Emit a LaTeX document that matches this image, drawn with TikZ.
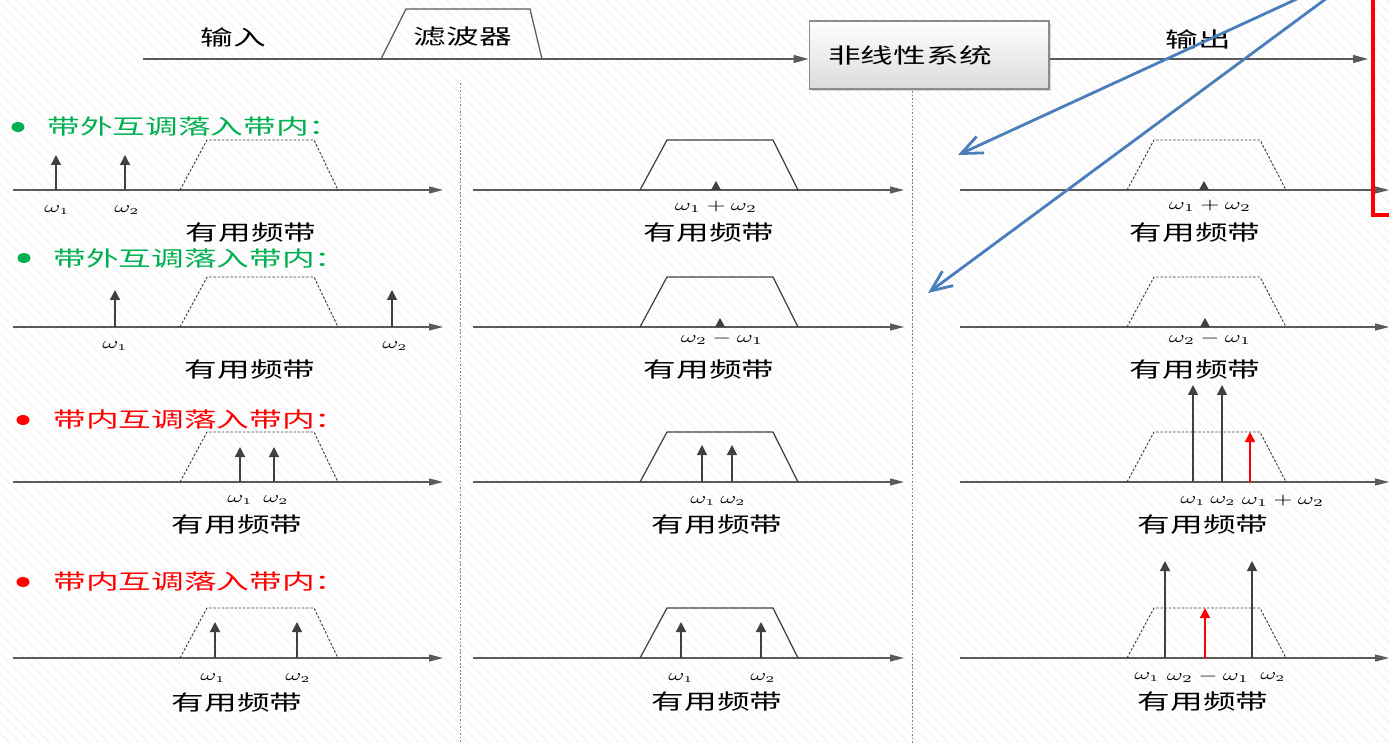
\documentclass[tikz,border=0pt]{standalone}
\usepackage{fontspec}
\usepackage{graphicx}
\usetikzlibrary{arrows.meta,patterns.meta,shadows}
\newfontfamily\cjk[FakeStretch=1.55]{Noto Sans CJK SC}
\definecolor{axisgray}{HTML}{5A5A5A}
\definecolor{spikegray}{HTML}{404040}
\definecolor{lblgreen}{HTML}{00B050}
\definecolor{linkblue}{HTML}{4A7EBB}
\definecolor{boxline}{HTML}{8C8C8C}
% horizontally widened formula labels
\newcommand{\wide}[1]{\scalebox{1.5}[1]{#1}}
\newcommand{\wsub}[1]{\wide{$\omega_{\scriptscriptstyle #1}$}}

\begin{document}
\begin{tikzpicture}[x=0.02cm,y=-0.02cm,
  cjktext/.style={font=\fontsize{12pt}{14pt}\selectfont\cjk, inner sep=0pt, text=black},
  heading/.style={cjktext, anchor=west},
  freq/.style={font=\fontsize{9pt}{10pt}\selectfont, inner sep=0pt},
  axis/.style={draw=axisgray, line width=0.6pt, -{Triangle[length=0.28cm,width=0.14cm]}},
  spike/.style={draw=spikegray, line width=0.8pt, -{Triangle[length=0.2cm,width=0.2cm]}},
  redspike/.style={spike, draw=red},
  passband/.style={draw=spikegray, line width=0.55pt, dash pattern=on 1.4pt off 1pt},
  solidband/.style={draw=spikegray, line width=0.7pt},
  divider/.style={draw=gray, line width=0.5pt, dash pattern=on 1pt off 1pt},
  link/.style={draw=linkblue, line width=1.6pt, -{Straight Barb[length=0.42cm,width=0.36cm]}},
  flow/.style={draw=axisgray, line width=0.6pt, -{Triangle[length=0.3cm,width=0.16cm]}},
  tinytip/.style={fill=spikegray},
  dot/.style={x radius=0.13cm, y radius=0.1cm}
]
\useasboundingbox (0,0) rectangle (1389,743);
\clip (0,0) rectangle (1389,743);

% faint hatched backdrop
\fill[white] (0,0) rectangle (1389,743);
\fill[pattern={Lines[angle=-45,distance=4pt,line width=0.4pt]}, pattern color=black!9] (0,0) rectangle (1389,743);

% ---- signal chain: input -> filter -> nonlinear system -> output
\node[draw=boxline, line width=0.6pt, top color=white, bottom color=black!14,
      minimum width=4.8cm, minimum height=1.36cm, inner sep=0pt,
      drop shadow={shadow xshift=0.05cm, shadow yshift=-0.05cm, opacity=0.3}] (sys) at (929,55) {};
\node[cjktext] (syslabel) at (910,55) {非线性系统};
\coordinate (src) at (143,59);
\coordinate (sink) at (1368,59);
\draw[flow] (src) -- (src -| sys.west);
\draw[flow] (sink -| sys.east) -- (sink);
\draw[solidband, draw=axisgray] (381,59) -- (406,9) -- (530,9) -- (542,59);
\node[cjktext] (inlabel) at (233,37) {输入};
\node[cjktext] (filterlabel) at (463,37) {滤波器};
\node[cjktext] (outlabel) at (1198,39) {输出};

% column dividers
\draw[divider] (460,83) -- (460,743);
\draw[divider] (912,91) -- (912,743);

% ---- axes and pass bands for the four rows
\foreach \yy in {190,327,482,658}{
  \draw[axis] (13,\yy) -- (443,\yy);
  \draw[axis] (473,\yy) -- (904,\yy);
  \draw[axis] (960,\yy) -- (1389,\yy);
  \draw[passband, shift={(0,\yy)}] (180,0) -- (207,-50) -- (314,-50) -- (338,0);
  \draw[solidband, shift={(460,\yy)}] (180,0) -- (207,-50) -- (313,-50) -- (338,0);
  \draw[passband, shift={(947,\yy)}] (180,0) -- (207,-50) -- (313,-50) -- (339,0);
}

% ---- row 1: out-of-band tones, sum product
\fill[lblgreen] (18,127) ellipse [dot];
\node[heading, text=lblgreen] (h1) at (47,127) {带外互调落入带内：};
\draw[spike] (56,190) -- (56,155);
\draw[spike] (125,190) -- (125,155);
\node[freq] (r1a) at (57,210) {\wsub{1}};
\node[freq] (r1b) at (127,210) {\wsub{2}};
\node[cjktext] (r1u1) at (251,233) {有用频带};
\fill[tinytip] (711,190) -- (721,190) -- (716,181) -- cycle;
\node[freq] (r1c) at (716,207) {\wide{$\omega_1+\omega_2$}};
\node[cjktext] (r1u2) at (709,233) {有用频带};
\fill[tinytip] (1199,190) -- (1209,190) -- (1204,181) -- cycle;
\node[freq] (r1d) at (1210,206) {\wide{$\omega_1+\omega_2$}};
\node[cjktext] (r1u3) at (1195,233) {有用频带};

% ---- row 2: out-of-band tones, difference product
\fill[lblgreen] (24,258) ellipse [dot];
\node[heading, text=lblgreen] (h2) at (53,258) {带外互调落入带内：};
\draw[spike] (115,327) -- (115,290);
\draw[spike] (392,327) -- (392,290);
\node[freq] (r2a) at (115,346) {\wsub{1}};
\node[freq] (r2b) at (395,346) {\wsub{2}};
\node[cjktext] (r2u1) at (250,370) {有用频带};
\fill[tinytip] (715,327) -- (725,327) -- (720,318) -- cycle;
\node[freq] (r2c) at (722,339) {\wide{$\omega_2-\omega_1$}};
\node[cjktext] (r2u2) at (709,370) {有用频带};
\fill[tinytip] (1200,327) -- (1210,327) -- (1205,318) -- cycle;
\node[freq] (r2d) at (1210,339) {\wide{$\omega_2-\omega_1$}};
\node[cjktext] (r2u3) at (1195,370) {有用频带};

% ---- row 3: in-band tones, sum product
\fill[red] (23,420) ellipse [dot];
\node[heading, text=red] (h3) at (53,420) {带内互调落入带内：};
\draw[spike] (240,482) -- (240,447);
\draw[spike] (274,482) -- (274,447);
\node[freq] (r3a) at (240,500) {\wsub{1}};
\node[freq] (r3b) at (276,500) {\wsub{2}};
\node[cjktext] (r3u1) at (237,525) {有用频带};
\draw[spike] (702,482) -- (702,445);
\draw[spike] (732,482) -- (732,445);
\node[freq] (r3c) at (703,501) {\wsub{1}};
\node[freq] (r3d) at (733,501) {\wsub{2}};
\node[cjktext] (r3u2) at (717,525) {有用频带};
\draw[spike] (1193,482) -- (1193,385);
\draw[spike] (1222,482) -- (1222,385);
\draw[redspike] (1250,482) -- (1250,432);
\node[freq] (r3e) at (1193,501) {\wsub{1}};
\node[freq] (r3f) at (1223,501) {\wsub{2}};
\node[freq] (r3g) at (1283,501) {\wide{$\omega_1+\omega_2$}};
\node[cjktext] (r3u3) at (1203,525) {有用频带};

% ---- row 4: in-band tones, difference product
\fill[red] (23,582) ellipse [dot];
\node[heading, text=red] (h4) at (53,582) {带内互调落入带内：};
\draw[spike] (215,658) -- (215,622);
\draw[spike] (297,658) -- (297,622);
\node[freq] (r4a) at (213,678) {\wsub{1}};
\node[freq] (r4b) at (298,678) {\wsub{2}};
\node[cjktext] (r4u1) at (237,703) {有用频带};
\draw[spike] (681,658) -- (681,622);
\draw[spike] (761,658) -- (761,622);
\node[freq] (r4c) at (681,678) {\wsub{1}};
\node[freq] (r4d) at (763,678) {\wsub{2}};
\node[cjktext] (r4u2) at (717,702) {有用频带};
\draw[spike] (1165,658) -- (1165,561);
\draw[spike] (1252,658) -- (1252,561);
\draw[redspike] (1205,658) -- (1205,608);
\node[freq] (r4e) at (1147,677) {\wsub{1}};
\node[freq] (r4f) at (1208,677) {\wide{$\omega_2-\omega_1$}};
\node[freq] (r4g) at (1273,677) {\wsub{2}};
\node[cjktext] (r4u3) at (1203,702) {有用频带};

% ---- pointers and highlight frame
\coordinate (p1s) at (1299,-2);
\coordinate (p1e) at (958,155);
\coordinate (p2s) at (1327,-2);
\coordinate (p2e) at (928,293);
\draw[link] (p1s) -- (p1e);
\draw[link] (p2s) -- (p2e);
\draw[red, line width=2.3pt] (1373,-20) -- (1373,215) -- (1420,215);
\end{tikzpicture}
\end{document}
